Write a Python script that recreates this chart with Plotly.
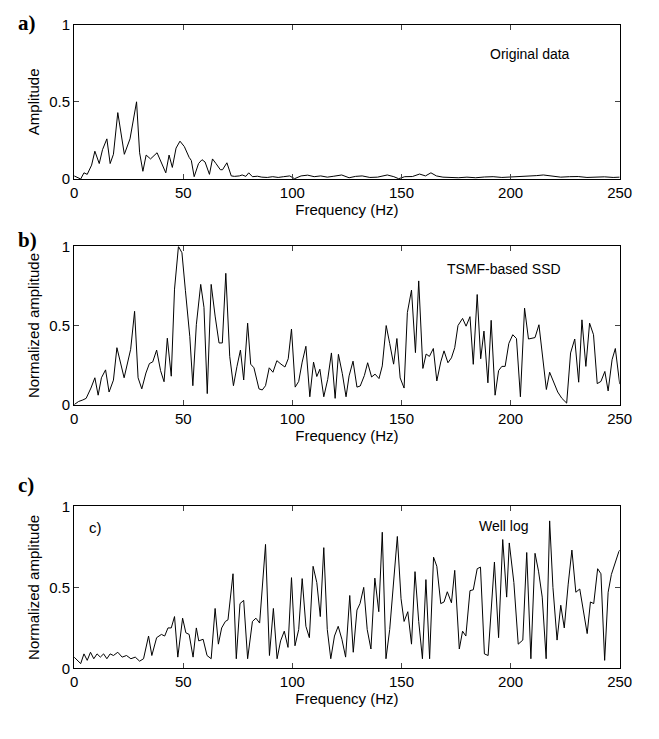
import plotly.graph_objects as go

# ---------------- data ----------------
freq_a = [0, 1.5, 3, 4.5, 6, 8, 9.5, 11.5, 13, 15, 16.5, 18, 20, 23, 25.6, 28.6, 30, 31.5, 33, 35,
          38, 42, 43.5, 45, 46.7, 48.5, 50.5, 52.7, 53.7, 55, 57, 58.6, 60, 62, 63.4, 65, 67, 68, 70, 72,
          73.5, 75.7, 77, 78.7, 80, 81.7, 84, 86, 88.5, 91, 93.5, 96, 98.8, 101, 104, 107, 110, 113, 116,
          119, 122.6, 126, 129, 132, 135.5, 139, 143.5, 146.5, 148.7, 151.5, 155, 158.3, 161, 163.5, 166,
          169, 172, 176, 180, 184, 188, 192, 196, 200, 204, 208, 212, 215, 219, 223, 227, 231, 235, 239,
          243, 247, 250]
amp_a = [0.02, 0.01, 0.0, 0.04, 0.03, 0.09, 0.18, 0.10, 0.19, 0.26, 0.10, 0.16, 0.43, 0.16, 0.26, 0.50, 0.17, 0.05, 0.155, 0.13,
         0.17, 0.04, 0.155, 0.075, 0.20, 0.245, 0.21, 0.14, 0.12, 0.015, 0.10, 0.125, 0.11, 0.03, 0.13, 0.10, 0.06, 0.06, 0.105, 0.02,
         0.017, 0.02, 0.026, 0.017, 0.04, 0.015, 0.018, 0.012, 0.01, 0.015, 0.01, 0.015, 0.02, 0.002, 0.02, 0.025, 0.015, 0.02, 0.012,
         0.018, 0.026, 0.008, 0.017, 0.02, 0.01, 0.012, 0.026, 0.015, 0.002, 0.015, 0.016, 0.032, 0.02, 0.04, 0.02,
         0.012, 0.01, 0.008, 0.012, 0.008, 0.013, 0.015, 0.01, 0.012, 0.015, 0.02, 0.022, 0.026, 0.02, 0.012, 0.015, 0.016, 0.01, 0.012,
         0.014, 0.01, 0.012]

freq_b = [0, 2, 4, 5.5, 7.7, 9.5, 11, 12.5, 14.4, 16, 18, 19.6, 22.9, 25.9, 27.7, 29.3, 31, 32.9, 34.5, 36,
          37.8, 39.6, 41.2, 42.7, 44.5, 46, 47.8, 49.4, 51, 53, 54.4, 56, 58, 59.5, 61, 62.8, 64.6, 66.4, 67.9, 69.5,
          71.3, 73, 74.6, 76.2, 77.7, 79.5, 80.9, 82.4, 84.7, 86.2, 87.7, 89.4, 91.1, 92.9, 94.8, 96.6, 98.1, 99.6, 101.3, 102.9,
          104.5, 106.2, 108.0, 109.7, 111.2, 112.6, 114.4, 116.2, 117.9, 119.6, 121.1, 122.9, 124.6, 126.0, 127.8, 129.6, 131.1, 133.0, 134.5, 136.3,
          137.9, 139.7, 141.2, 143.0, 144.6, 146.4, 147.9, 149.4, 151.2, 152.7, 154.6, 156.4, 157.9, 159.8, 161.3, 162.8, 164.6, 166.2, 168.0, 169.5,
          171.3, 172.9, 174.4, 175.9, 178.0, 179.6, 181.4, 182.9, 184.7, 186.3, 187.8, 189.6, 191.1, 192.9, 194.5, 196.0, 197.5, 199.2, 201.0, 202.7,
          204.5, 206.4, 208.2, 211.2, 213.0, 214.6, 216.4, 217.9, 219.6, 221.6, 223.5, 225.7, 227.5, 229.4, 231.2, 232.7, 234.5, 236.2, 238.0, 239.7,
          241.4, 243.2, 244.7, 246.5, 248.0, 250.0]
amp_b = [0.0, 0.02, 0.03, 0.04, 0.105, 0.17, 0.06, 0.17, 0.22, 0.08, 0.155, 0.36, 0.17, 0.35, 0.59, 0.17, 0.10, 0.20, 0.26, 0.27,
         0.345, 0.215, 0.145, 0.42, 0.18, 0.73, 1.0, 0.96, 0.72, 0.43, 0.12, 0.505, 0.76, 0.615, 0.07, 0.76, 0.56, 0.39, 0.39, 0.83,
         0.305, 0.12, 0.24, 0.345, 0.156, 0.515, 0.256, 0.233, 0.10, 0.093, 0.12, 0.233, 0.205, 0.278, 0.256, 0.238, 0.29, 0.478, 0.111, 0.147,
         0.269, 0.369, 0.05, 0.269, 0.178, 0.224, 0.05, 0.16, 0.327, 0.04, 0.318, 0.196, 0.05, 0.182, 0.275, 0.111, 0.118, 0.184, 0.265, 0.175,
         0.193, 0.165, 0.245, 0.50, 0.387, 0.256, 0.418, 0.169, 0.105, 0.582, 0.724, 0.329, 0.782, 0.229, 0.32, 0.305, 0.355, 0.15, 0.27, 0.34,
         0.265, 0.296, 0.36, 0.50, 0.545, 0.496, 0.556, 0.255, 0.696, 0.29, 0.465, 0.138, 0.533, 0.06, 0.215, 0.242, 0.242, 0.387, 0.442, 0.418,
         0.05, 0.61, 0.415, 0.424, 0.505, 0.327, 0.096, 0.205, 0.142, 0.08, 0.04, 0.01, 0.327, 0.415, 0.142, 0.536, 0.242, 0.515, 0.442, 0.133,
         0.147, 0.21, 0.087, 0.284, 0.355, 0.13]

freq_c = [0, 1.5, 3, 4.5, 6, 7.5, 9, 10.5, 12, 13.5, 15, 16.5, 18, 20, 22, 24, 26, 28, 30, 31.8,
          34.1, 35.6, 37.8, 40, 41.5, 43, 44.5, 46, 47.5, 49.7, 51.2, 52.7, 54.5, 56, 57.1, 59.1, 60.9, 62.8, 64.6, 66.1,
          67.6, 69.3, 70.5, 72.8, 74.3, 76, 77.7, 79.5, 81.7, 83.3, 85, 87.7, 89.5, 91.3, 93, 94.6, 96.3, 98, 99.6, 101.2,
          102.9, 104.5, 106.2, 107.8, 109.5, 111.2, 112.8, 114.4, 116, 117.6, 119.3, 121, 122.7, 124.4, 126.3, 127.9, 129.6, 131, 132.7, 134.3,
          136, 137.8, 139.6, 141.2, 142.9, 144.6, 148.1, 149.8, 151.2, 152.9, 154.6, 156.2, 157.9, 159.6, 161.2, 162.9, 164.7, 166.2, 168, 169.5,
          171, 172.9, 174.4, 176.5, 178, 179.5, 181.4, 182.9, 184.7, 186.2, 188, 189.7, 192.6, 194.5, 196.4, 198.2, 199.4, 201.5, 203.5, 205.6,
          207.4, 209.3, 211.2, 212.8, 214.5, 216.3, 217.9, 219.4, 221.3, 223, 224.6, 226.4, 228.1, 229.9, 231.7, 235.1, 236.6, 238.1, 239.9, 241.4,
          243.1, 244.7, 246.2, 249.6, 250]
amp_c = [0.07, 0.05, 0.03, 0.09, 0.05, 0.10, 0.06, 0.09, 0.07, 0.09, 0.06, 0.09, 0.08, 0.10, 0.07, 0.08, 0.06, 0.07, 0.045, 0.06,
         0.20, 0.08, 0.19, 0.21, 0.20, 0.25, 0.25, 0.32, 0.07, 0.31, 0.22, 0.21, 0.07, 0.25, 0.17, 0.18, 0.08, 0.06, 0.37, 0.15,
         0.25, 0.29, 0.30, 0.584, 0.06, 0.40, 0.42, 0.06, 0.29, 0.31, 0.28, 0.765, 0.08, 0.37, 0.06, 0.17, 0.23, 0.13, 0.56, 0.14,
         0.24, 0.554, 0.26, 0.19, 0.63, 0.53, 0.32, 0.745, 0.24, 0.06, 0.20, 0.26, 0.18, 0.07, 0.45, 0.10, 0.36, 0.40, 0.50, 0.24,
         0.12, 0.557, 0.35, 0.84, 0.06, 0.24, 0.814, 0.43, 0.29, 0.35, 0.15, 0.597, 0.29, 0.06, 0.548, 0.06, 0.686, 0.63, 0.40, 0.41,
         0.473, 0.405, 0.605, 0.12, 0.23, 0.20, 0.48, 0.485, 0.615, 0.625, 0.09, 0.08, 0.656, 0.19, 0.795, 0.44, 0.774, 0.53, 0.15, 0.175,
         0.715, 0.06, 0.71, 0.60, 0.44, 0.06, 0.91, 0.50, 0.175, 0.39, 0.25, 0.52, 0.73, 0.47, 0.49, 0.215, 0.41, 0.40, 0.615, 0.584,
         0.05, 0.47, 0.58, 0.72, 0.73]

x_ticks = [0, 50, 100, 150, 200, 250]
y_ticks = [0, 0.5, 1]
y_tick_text = ["0", "0.5", "1"]
panel_letters = ["a)", "b)", "c)"]
y_titles = ["Amplitude", "Normalized amplitude", "Normalized amplitude"]
x_title = "Frequency (Hz)"

# ---------------- layout geometry ----------------
W, H = 659, 739
x_dom = [72 / W, 632 / W]
panels_px = [(16, 174), (243, 405), (509, 675)]   # plot-area top, bottom (pixels)
letter_y_px = [14, 236, 487]                        # bold panel letters (pixels)

def ydom(top, bot):
    return [1 - bot / H, 1 - top / H]

FONT = "Liberation Sans, Arial, Helvetica, sans-serif"

fig = go.Figure()
series = [(freq_a, amp_a), (freq_b, amp_b), (freq_c, amp_c)]
for i, (fx, fy) in enumerate(series):
    sfx = "" if i == 0 else str(i + 1)
    fig.add_trace(go.Scatter(x=fx, y=fy, mode="lines",
                             line=dict(color="black", width=1),
                             xaxis="x" + sfx, yaxis="y" + sfx,
                             showlegend=False, hoverinfo="skip"))

layout = dict(width=W, height=H, margin=dict(l=0, r=0, t=0, b=0),
              paper_bgcolor="white", plot_bgcolor="white",
              font=dict(family=FONT, size=14, color="black"))

for i, (top, bot) in enumerate(panels_px):
    sfx = "" if i == 0 else str(i + 1)
    layout["xaxis" + sfx] = dict(
        domain=x_dom, anchor="y" + sfx, range=[0, 250],
        tickmode="array", tickvals=x_ticks, ticks="inside", ticklen=5,
        showline=True, linecolor="black", linewidth=1, mirror="allticks",
        showgrid=False, zeroline=False, tickfont=dict(size=15),
        title=dict(text=x_title, font=dict(size=15), standoff=4))
    layout["yaxis" + sfx] = dict(
        domain=ydom(top, bot), anchor="x" + sfx, range=[0, 1],
        tickmode="array", tickvals=y_ticks, ticktext=y_tick_text,
        ticks="inside", ticklen=5,
        showline=True, linecolor="black", linewidth=1, mirror="allticks",
        showgrid=False, zeroline=False, tickfont=dict(size=15),
        title=dict(text=y_titles[i], font=dict(size=15), standoff=6))

annotations = []
for i in range(3):
    annotations.append(dict(text="<b>%s</b>" % panel_letters[i], xref="paper", yref="paper",
                            x=12 / W, y=1 - letter_y_px[i] / H, xanchor="left", yanchor="middle",
                            showarrow=False,
                            font=dict(family="Liberation Serif, Times New Roman, serif", size=21)))

annotations.append(dict(text="Original data", xref="x", yref="y", x=209, y=0.81,
                        showarrow=False, font=dict(size=14)))
annotations.append(dict(text="TSMF-based SSD", xref="x2", yref="y2", x=197, y=0.86,
                        showarrow=False, font=dict(size=14)))
annotations.append(dict(text="Well log", xref="x3", yref="y3", x=197, y=0.88,
                        showarrow=False, font=dict(size=14)))
annotations.append(dict(text="c)", xref="x3", yref="y3", x=10, y=0.87,
                        showarrow=False, font=dict(size=15)))
layout["annotations"] = annotations

fig.update_layout(**layout)
fig.write_html("out.html")
